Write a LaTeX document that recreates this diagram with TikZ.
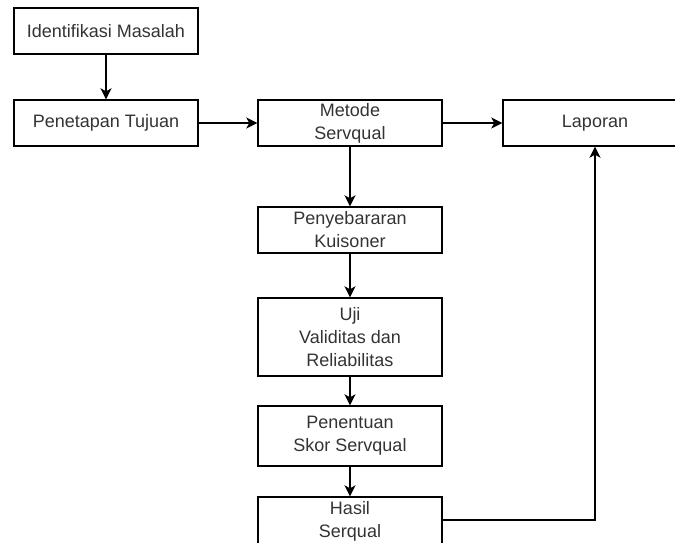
\documentclass[tikz,border=0pt]{standalone}
\usepackage{fontspec}
\setmainfont{Liberation Sans}
\usetikzlibrary{arrows.meta}
\definecolor{teks}{HTML}{333333}
\begin{document}
\begin{tikzpicture}[x=1pt, y=-1pt, >={Stealth[length=11pt, width=11pt, inset=3pt]},
    kotak/.style={draw, line width=1.4pt, minimum width=184pt, minimum height=46pt,
      inner sep=0pt, align=center, text=teks,
      font=\fontsize{18}{23}\selectfont},
    panah/.style={->, line width=1.4pt}]
    % batas gambar
    \useasboundingbox (0,0) rectangle (675,543);

    % kolom kiri
    \node[kotak] (idm) at (106, 31) {Identifikasi Masalah};
    \node[kotak] (pen) at (106, 123) {Penetapan Tujuan};

    % kolom tengah
    \node[kotak] (met) at (350, 123) {Metode\\Servqual};
    \node[kotak] (peny) at (350, 230) {Penyebararan\\Kuisoner};
    \node[kotak, minimum height=78pt] (uji) at (350, 337) {Uji\\Validitas dan\\Reliabilitas};
    \node[kotak, minimum height=60pt] (pnt) at (350, 436) {Penentuan\\Skor Servqual};
    \node[kotak, minimum height=48pt] (hsl) at (350, 521) {Hasil\\Serqual};

    % kolom kanan
    \node[kotak] (lap) at (595, 123) {Laporan};

    % panah
    \draw[panah] (idm) -- (pen);
    \draw[panah] (pen) -- (met);
    \draw[panah] (met) -- (lap);
    \draw[panah] (met) -- (peny);
    \draw[panah] (peny) -- (uji);
    \draw[panah] (uji) -- (pnt);
    \draw[panah] (pnt) -- (hsl);
    \draw[panah] (hsl.east |- 0,520) -| (lap);
\end{tikzpicture}
\end{document}
